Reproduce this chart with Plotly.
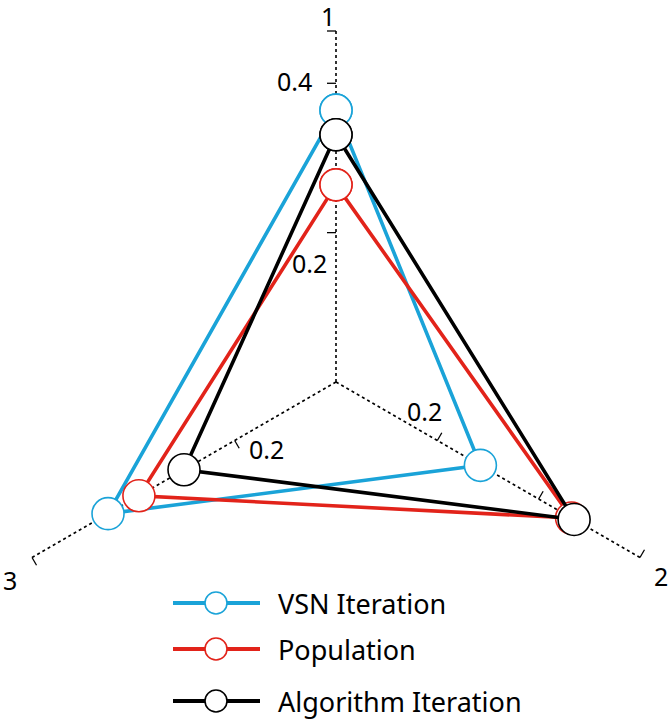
import math
import plotly.graph_objects as go

# Оси радара
axis_names = ["1", "2", "3"]
axis_angles = [90, -30, 210]
axis_max = [0.47, 0.6, 0.6]
tick_values = [0.2, 0.4]

# Значения рядов (по осям 1, 2, 3)
series_names = ["VSN Iteration", "Population", "Algorithm Iteration"]
vsn_iteration = [0.364, 0.285, 0.45]
population = [0.264, 0.465, 0.389]
algorithm_iteration = [0.331, 0.47, 0.30]
series_values = [vsn_iteration, population, algorithm_iteration]
series_colors = ["#1aa3d8", "#e2231a", "#000000"]

W, H = 668, 719
R = 351.0            # длина оси в пикселях
CX, CY = 336, 382    # центр в пикселях
FONT = "Noto Sans"


def to_xy(value, i):
    r = value / axis_max[i]
    a = math.radians(axis_angles[i])
    return r * math.cos(a), r * math.sin(a)


fig = go.Figure()

# пунктирные оси и засечки
tick_len = 9 / R
for i in range(3):
    ex, ey = to_xy(axis_max[i], i)
    fig.add_trace(go.Scatter(x=[0, ex], y=[0, ey], mode="lines",
                             line=dict(color="black", width=1.6, dash="3px,3px"),
                             hoverinfo="skip", showlegend=False))
    a = math.radians(axis_angles[i] + 90)
    for v in tick_values + [axis_max[i]]:
        tx, ty = to_xy(v, i)
        fig.add_trace(go.Scatter(x=[tx, tx + tick_len * math.cos(a)],
                                 y=[ty, ty + tick_len * math.sin(a)],
                                 mode="lines", line=dict(color="black", width=1.3),
                                 hoverinfo="skip", showlegend=False))

# ряды
for name, vals, color in zip(series_names, series_values, series_colors):
    pts = [to_xy(v, i) for i, v in enumerate(vals)]
    pts.append(pts[0])
    fig.add_trace(go.Scatter(
        x=[p[0] for p in pts], y=[p[1] for p in pts], name=name,
        mode="lines+markers",
        line=dict(color=color, width=3.6),
        marker=dict(size=32, color="white", line=dict(color=color, width=1.6)),
        showlegend=False,
    ))

# подписи засечек
label_pos = [(0, 0.4, "right", -22, 2), (0, 0.2, "right", -7, -30),
             (1, 0.2, "center", -13, 30), (2, 0.2, "center", 32, -8)]
for i, v, xa, dx, dy in label_pos:
    x, y = to_xy(v, i)
    fig.add_annotation(x=x, y=y, text=str(v), showarrow=False, xanchor=xa,
                       xshift=dx, yshift=dy, font=dict(family=FONT, size=25, color="black"))

# названия осей
name_shift = [(-8, 15), (21, -18), (-22, -22)]
for i, (dx, dy) in enumerate(name_shift):
    x, y = to_xy(axis_max[i], i)
    fig.add_annotation(x=x, y=y, text=axis_names[i], showarrow=False,
                       xshift=dx, yshift=dy, font=dict(family=FONT, size=25, color="black"))

# легенда вручную
legend_y = [603, 649, 701]
for name, color, py in zip(series_names, series_colors, legend_y):
    fig.add_shape(type="line", xref="paper", yref="paper",
                  x0=173 / W, x1=260 / W, y0=1 - py / H, y1=1 - py / H,
                  line=dict(color=color, width=4))
    fig.add_shape(type="circle", xref="paper", yref="paper",
                  x0=205 / W, x1=227 / W, y0=1 - (py + 11) / H, y1=1 - (py - 11) / H,
                  fillcolor="white", line=dict(color=color, width=1.6))
    fig.add_annotation(xref="paper", yref="paper", x=276 / W, y=1 - py / H,
                       text=name, showarrow=False, xanchor="left", yanchor="middle",
                       font=dict(family=FONT, size=27, color="black"))

fig.update_layout(
    width=W, height=H,
    margin=dict(l=0, r=0, t=0, b=0),
    paper_bgcolor="white", plot_bgcolor="white",
    xaxis=dict(range=[-CX / R, (W - CX) / R], visible=False, fixedrange=True),
    yaxis=dict(range=[-(H - CY) / R, CY / R], visible=False, fixedrange=True),
    showlegend=False,
)

# убираем стандартный отступ body, чтобы график встал в окно целиком
fig.write_html("out.html", config={"displayModeBar": False},
               post_script="document.body.style.margin='0';")
